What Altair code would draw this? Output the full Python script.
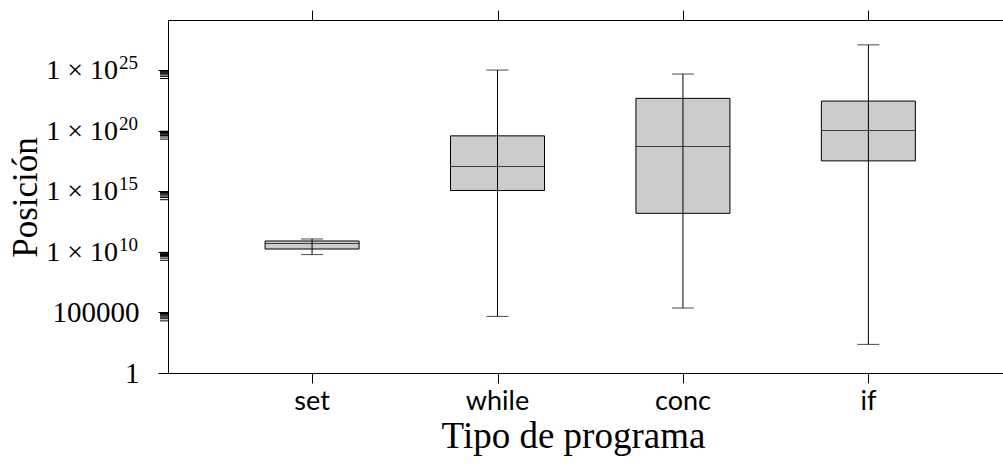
import altair as alt
import pandas as pd

# ---- data ----
categories = ["set", "while", "conc", "if"]
whisker_low = [5.9e9, 4.7e4, 2.3e5, 2.3e2]
quartile_1 = [1.7e10, 1.15e15, 1.5e13, 3.2e17]
medians = [4.8e10, 1.1e17, 4.9e18, 1.05e20]
quartile_3 = [7.8e10, 3.7e19, 4.6e22, 2.75e22]
whisker_high = [1.15e11, 1.0e25, 4.7e24, 1.2e27]

y_tick_values = [1, 1e5, 1e10, 1e15, 1e20, 1e25]
y_plain_labels = ["1", "100000", "", "", "", ""]
y_sci_values = [1e10, 1e15, 1e20, 1e25]
y_sci_mantissa = ["1 × 10", "1 × 10", "1 × 10", "1 × 10"]
y_sci_exponent = ["10", "15", "20", "25"]
minor_tick_values = [k * 10 ** (e - 1) for e in [5, 10, 15, 20, 25] for k in range(2, 10)]

df = pd.DataFrame({
    "cat": categories, "idx": list(range(len(categories))), "lo": whisker_low,
    "q1": quartile_1, "med": medians, "q3": quartile_3, "hi": whisker_high,
})
minor_df = pd.DataFrame({"v": minor_tick_values})
sci_df = pd.DataFrame({"v": y_sci_values, "m": y_sci_mantissa, "e": y_sci_exponent})

SERIF = "Liberation Serif"
SANS = "Lato"

label_expr = ""
for v, lab in zip(y_tick_values, y_plain_labels):
    label_expr += f"datum.value < {v * 3} ? '{lab}' : "
label_expr += "''"

xscale = alt.Scale(domain=[-0.75, 3.699], nice=False, zero=False)
yscale = alt.Scale(type="log", domain=[1, 1.35e29], nice=False, zero=False)

base = alt.Chart(df)

whisker = base.mark_rule(color="black", strokeWidth=1).encode(
    x=alt.X("idx:Q", scale=xscale, axis=None),
    y=alt.Y("lo:Q", scale=yscale, axis=None),
    y2="hi:Q",
)
cap_lo = base.mark_tick(color="black", size=22, thickness=1, orient="horizontal").encode(
    x=alt.X("idx:Q", scale=xscale, axis=None),
    y=alt.Y("lo:Q", scale=yscale, axis=None),
)
cap_hi = base.mark_tick(color="black", size=22, thickness=1, orient="horizontal").encode(
    x=alt.X("idx:Q", scale=xscale, axis=None),
    y=alt.Y("hi:Q", scale=yscale, axis=None),
)
box = base.mark_bar(width=94, fill="#cccccc", stroke="black", strokeWidth=1).encode(
    x=alt.X("idx:Q", scale=xscale,
            axis=alt.Axis(title="Tipo de programa", orient="bottom", tickSize=10,
                          values=list(range(len(categories))), labels=False,
                          tickColor="black",
                          domainColor="black", titleFont=SERIF, titleFontSize=37,
                          titleFontWeight="normal", titleColor="black",
                          titleX=405, titleY=74, titleBaseline="alphabetic",
                          titleAlign="center", grid=False)),
    y=alt.Y("q1:Q", scale=yscale,
            axis=alt.Axis(title="Posición", values=y_tick_values, labelExpr=label_expr,
                          orient="left",
                          tickSize=10, labelFont=SERIF, labelFontSize=29,
                          labelColor="black", labelPadding=19, tickColor="black",
                          domainColor="black", titleFont=SERIF, titleFontSize=35,
                          titleFontWeight="normal", titleColor="black",
                          titleX=-132, titleY=177, titleAlign="center",
                          titleBaseline="alphabetic", titleAngle=270,
                          grid=False, labelFlush=False)),
    y2="q3:Q",
)
median = base.mark_tick(color="black", size=94, thickness=1, orient="horizontal").encode(
    x=alt.X("idx:Q", scale=xscale, axis=None),
    y=alt.Y("med:Q", scale=yscale, axis=None),
)
xlabels = base.mark_text(font=SANS, fontSize=27, color="black", baseline="alphabetic",
                         align="center").encode(
    x=alt.X("idx:Q", scale=xscale, axis=None),
    y=alt.value(353 + 37),
    text="cat:N",
)
sci_base = alt.Chart(sci_df).mark_text(font=SERIF, fontSize=28, color="black",
                                       baseline="alphabetic", align="right", dy=9).encode(
    x=alt.value(-50),
    y=alt.Y("v:Q", scale=yscale, axis=None),
    text="m:N",
)
sci_exp = alt.Chart(sci_df).mark_text(font=SERIF, fontSize=19, color="black",
                                      baseline="alphabetic", align="right", dy=-1).encode(
    x=alt.value(-30),
    y=alt.Y("v:Q", scale=yscale, axis=None),
    text="e:N",
)
top_axis = base.mark_point(opacity=0).encode(
    x=alt.X("idx:Q", scale=xscale,
            axis=alt.Axis(orient="top", labels=False, title=None, tickSize=10,
                          values=list(range(len(categories))),
                          tickColor="black", domainColor="black", grid=False)),
    y=alt.Y("med:Q", scale=yscale, axis=None),
)
minor = alt.Chart(minor_df).mark_rule(color="black", strokeWidth=1).encode(
    x=alt.value(-8), x2=alt.value(0),
    y=alt.Y("v:Q", scale=yscale, axis=None),
)

chart = alt.layer(box, whisker, cap_lo, cap_hi, median, minor, xlabels,
                  sci_base, sci_exp, top_axis).resolve_axis(
    x="independent", y="independent"
).properties(
    width=835, height=353,
    padding={"left": 168, "top": 20, "right": 0, "bottom": 99},
    autosize=alt.AutoSizeParams(type="none"),
).configure_view(strokeWidth=0).configure(background="white")

chart.save("out.html", embed_options={"renderer": "svg", "actions": False})
